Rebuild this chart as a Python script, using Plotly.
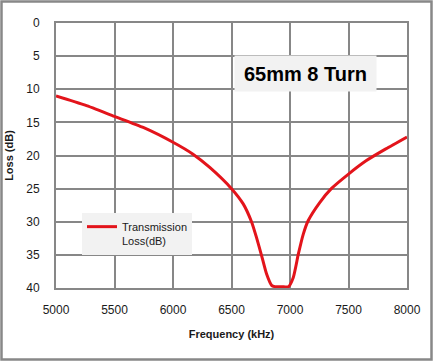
import plotly.graph_objects as go

freq_khz = [5000, 5250, 5500, 5750, 6000, 6171, 6314, 6500, 6600, 6671, 6714, 6757,
            6800, 6843, 6871, 6930, 6986, 7028, 7071, 7113, 7155, 7254, 7353, 7500, 7650,
            7819, 8000]
loss_db = [11.0, 12.4, 14.1, 15.8, 18.0, 19.8, 21.8, 25.0, 27.3, 30.0, 32.4, 35.1,
           37.9, 39.6, 39.8, 39.8, 39.8, 38.4, 34.9, 31.9, 29.85, 27.1, 25.0, 22.8, 20.8,
           19.0, 17.2]
series_name = "Transmission<br>Loss(dB)"
chart_label = "65mm 8 Turn"
x_ticks = [5000, 5500, 6000, 6500, 7000, 7500, 8000]
y_ticks = [0, 5, 10, 15, 20, 25, 30, 35, 40]

FONT = "Liberation Sans, Arial, sans-serif"
GRID = "#878787"

fig = go.Figure()
fig.add_trace(go.Scatter(
    x=freq_khz, y=loss_db, mode="lines", name=series_name,
    line=dict(color="#e3141b", width=3, shape="spline", smoothing=0.6),
    showlegend=True,
))

fig.update_layout(
    width=434, height=362,
    margin=dict(l=56, r=27, t=23, b=74),
    paper_bgcolor="white", plot_bgcolor="white",
    font=dict(family=FONT, size=12, color="#1a1a1a"),
    showlegend=True,
    legend=dict(
        x=(82 - 56) / 351, y=(288 - 213) / 265, xanchor="left", yanchor="top",
        bgcolor="#f2f2f2", borderwidth=0, font=dict(size=11, family=FONT, color="#1a1a1a"),
        itemwidth=30, valign="top", tracegroupgap=0,
    ),
    xaxis=dict(
        range=[5000, 8000], tickvals=x_ticks, ticktext=[str(v) for v in x_ticks],
        showgrid=True, gridcolor=GRID, gridwidth=2,
        showline=True, linecolor=GRID, linewidth=2, mirror=True,
        zeroline=False, ticks="", ticklabelstandoff=10,
        tickfont=dict(size=12), automargin=False,
        title=dict(text="<b>Frequency (kHz)</b>", font=dict(size=11), standoff=14),
    ),
    yaxis=dict(
        range=[40, 0], tickvals=y_ticks, ticktext=[str(v) for v in y_ticks],
        showgrid=True, gridcolor=GRID, gridwidth=2,
        showline=True, linecolor=GRID, linewidth=2, mirror=True,
        zeroline=False, ticks="", ticklabelstandoff=12,
        tickfont=dict(size=12), automargin=False,
        title=dict(text="<b>Loss (dB)</b>", font=dict(size=11), standoff=10),
    ),
    annotations=[dict(
        text="<b>" + chart_label + "</b>", xref="paper", yref="paper",
        x=(305 - 56) / 351, y=(288 - 73.5) / 265, xanchor="center", yanchor="middle",
        showarrow=False, bgcolor="#f2f2f2", width=139, height=33,
        font=dict(size=20, family=FONT, color="#000000"),
    )],
    shapes=[dict(
        type="rect", xref="paper", yref="paper",
        x0=(1.5 - 56) / 351, x1=(431.5 - 56) / 351,
        y0=(288 - 359.5) / 265, y1=(288 - 1.5) / 265,
        line=dict(color="#888888", width=2.5), fillcolor="rgba(0,0,0,0)", layer="below",
    )],
)

fig.write_html(
    "out.html",
    config={"displayModeBar": False},
    post_script="document.body.style.margin='0';document.body.style.overflow='hidden';",
)
